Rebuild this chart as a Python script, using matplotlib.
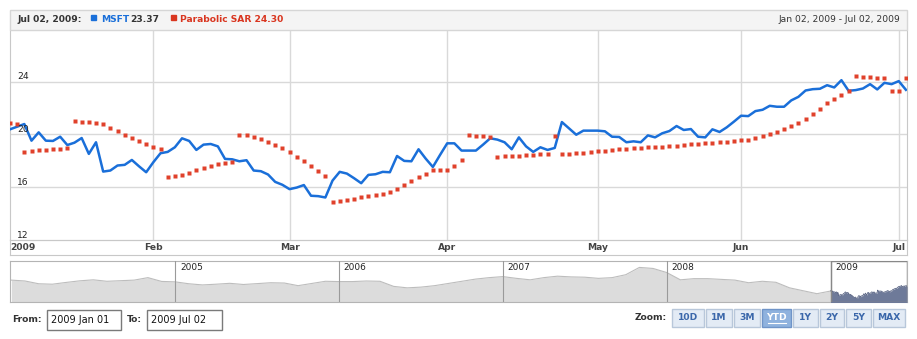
import matplotlib.pyplot as plt
from matplotlib.patches import Rectangle
from matplotlib.lines import Line2D

W, H = 917, 339

# MSFT daily close, trading days Jan 02 - Jul 02 2009
msft = [20.38, 20.58, 20.78, 19.52, 20.15, 19.52, 19.50, 19.82, 19.19, 19.37,
        19.72, 18.52, 19.40, 17.18, 17.26, 17.64, 17.69, 18.06, 17.58, 17.13,
        17.89, 18.57, 18.67, 19.02, 19.70, 19.50, 18.82, 19.22, 19.27, 19.09,
        18.14, 18.11, 17.96, 18.04, 17.26, 17.21, 16.96, 16.40, 16.18, 15.85,
        15.97, 16.16, 15.35, 15.32, 15.22, 16.50, 17.16, 17.03, 16.68, 16.30,
        16.93, 16.98, 17.16, 17.13, 18.36, 17.99, 17.96, 18.87, 18.16, 17.53,
        18.44, 19.32, 19.32, 18.77, 18.77, 18.77, 19.22, 19.70, 19.60, 19.40,
        18.87, 19.77, 19.09, 18.67, 19.02, 18.82, 18.97, 20.93, 20.45, 19.97,
        20.28, 20.28, 20.28, 20.23, 19.82, 19.80, 19.40, 19.47, 19.40, 19.92,
        19.77, 20.08, 20.25, 20.63, 20.33, 20.40, 19.82, 19.77, 20.38, 20.18,
        20.53, 20.96, 21.41, 21.38, 21.76, 21.86, 22.16, 22.09, 22.09, 22.57,
        22.84, 23.32, 23.42, 23.45, 23.72, 23.55, 24.10, 23.30, 23.35, 23.47,
        23.80, 23.40, 23.90, 23.80, 24.03, 23.37]

# Parabolic SAR, same days
sar = [20.83, 20.75, 18.69, 18.72, 18.79, 18.82, 18.87, 18.89, 18.94, 21.03,
       20.96, 20.91, 20.83, 20.75, 20.50, 20.23, 19.95, 19.70, 19.47, 19.25,
       19.04, 18.87, 16.78, 16.83, 16.93, 17.11, 17.28, 17.43, 17.58, 17.74,
       17.86, 17.91, 19.97, 19.92, 19.82, 19.67, 19.42, 19.17, 18.94, 18.69,
       18.29, 17.99, 17.64, 17.26, 16.83, 14.89, 14.94, 15.04, 15.14, 15.22,
       15.30, 15.37, 15.47, 15.65, 15.87, 16.15, 16.48, 16.75, 17.03, 17.31,
       17.31, 17.31, 17.61, 18.06, 19.92, 19.87, 19.85, 19.80, 18.29, 18.34,
       18.36, 18.39, 18.42, 18.47, 18.49, 18.49, 19.87, 18.49, 18.52, 18.57,
       18.62, 18.67, 18.72, 18.77, 18.82, 18.87, 18.92, 18.94, 18.99, 19.02,
       19.04, 19.07, 19.12, 19.14, 19.19, 19.25, 19.30, 19.32, 19.37, 19.42,
       19.45, 19.50, 19.55, 19.60, 19.72, 19.87, 20.03, 20.20, 20.40, 20.60,
       20.83, 21.18, 21.53, 21.91, 22.36, 22.69, 22.99, 23.30, 24.38, 24.35,
       24.33, 24.30, 24.25, 23.25, 23.25, 24.30]

month_labels = ['2009', 'Feb', 'Mar', 'Apr', 'May', 'Jun', 'Jul']
month_start = [0, 20, 39, 61, 82, 102, 124]   # trading-day index of 1st day
y_ticks = [12, 16, 20, 24]

# navigator: monthly MSFT Jan 2004 .. Jan 2009
nav_hist = [27.8, 27.2, 25.3, 25.0, 26.2, 27.3, 28.0, 27.0, 27.4, 27.8, 29.5, 26.9,
            26.6, 25.3, 24.5, 25.0, 25.6, 24.8, 25.4, 26.0, 25.8, 24.0, 25.5, 27.0,
            26.8, 26.8, 27.2, 27.0, 23.5, 22.5, 23.0, 24.0, 25.5, 27.0, 28.5, 29.5,
            30.2, 29.0, 28.0, 29.5, 30.5, 30.0, 29.8, 29.0, 29.5, 31.5, 36.5, 35.8,
            33.0, 28.0, 28.8, 28.8, 28.3, 27.8, 26.0, 27.0, 26.3, 22.5, 20.5, 18.5,
            20.3]
nav_years = ['2005', '2006', '2007', '2008', '2009']
zoom_buttons = ['10D', '1M', '3M', 'YTD', '1Y', '2Y', '5Y', 'MAX']
from_date = '2009 Jan 01'
to_date = '2009 Jul 02'

plt.rcParams['font.family'] = ['DejaVu Sans']
fig = plt.figure(figsize=(W / 100, H / 100), dpi=100)
fig.patch.set_facecolor('white')


def box(x0, y0, x1, y1):
    return [x0 / W, 1 - y1 / H, (x1 - x0) / W, (y1 - y0) / H]


def fx(x):
    return x / W


def fy(y):
    return 1 - y / H


def rect(x0, y0, x1, y1, fc, ec, lw=1, z=1):
    r = Rectangle((fx(x0), fy(y1)), (x1 - x0) / W, (y1 - y0) / H,
                  transform=fig.transFigure, facecolor=fc, edgecolor=ec,
                  linewidth=lw, zorder=z)
    fig.add_artist(r)


# header bar
rect(10, 10, 907, 30, '#f4f4f4', '#d6d6d6')
fig.text(fx(17), fy(20), 'Jul 02, 2009:', fontsize=6.6, fontweight='bold',
         color='#333333', va='center')
rect(91, 15, 96, 20, '#1a6fd9', '#1a6fd9', z=3)
fig.text(fx(101), fy(20), 'MSFT', fontsize=6.6, fontweight='bold',
         color='#1a6fd9', va='center')
fig.text(fx(130), fy(20), '%.2f' % msft[-1], fontsize=6.6, fontweight='bold',
         color='#333333', va='center')
rect(171, 15, 176, 20, '#d9351f', '#d9351f', z=3)
fig.text(fx(180), fy(20), 'Parabolic SAR %.2f' % sar[-1], fontsize=6.6,
         fontweight='bold', color='#d9351f', va='center')
fig.text(fx(900), fy(20), 'Jan 02, 2009 - Jul 02, 2009', fontsize=6.6,
         color='#333333', va='center', ha='right')

# main chart
ax = fig.add_axes(box(10, 30, 907, 240))
idx = list(range(len(msft)))
ax.plot(idx, msft, color='#1a6fd9', lw=1.8, zorder=3, solid_joinstyle='round')
ax.plot(idx, sar, 's', color='#e0412b', ms=2.4, mec='none', zorder=4)
ax.set_xlim(0, 125.15)
ax.set_ylim(12, 27.9)
for m in month_start[1:]:
    ax.axvline(m, color='#d9d9d9', lw=1, zorder=1)
for v in y_ticks[1:]:
    ax.axhline(v, color='#d9d9d9', lw=1, zorder=1)
for v in y_ticks:
    ax.text(0.008, v + 0.18, str(v), transform=ax.get_yaxis_transform(),
            fontsize=6.6, color='#222222', va='baseline', ha='left', zorder=5)
ax.set_yticks([])
ax.set_xticks(month_start)
ax.set_xticklabels(month_labels, fontsize=6.6, fontweight='bold', color='#444444')
ax.tick_params(axis='x', length=0, pad=2.5)
ax.get_xticklabels()[0].set_ha('left')
for s in ['left', 'right', 'bottom']:
    ax.spines[s].set_color('#c8c8c8')
ax.spines['top'].set_visible(False)

# label band under the chart
band = fig.add_axes(box(10, 240, 907, 255))
band.set_facecolor('none')
band.set_xticks([])
band.set_yticks([])
for s in band.spines.values():
    s.set_color('#c8c8c8')

# navigator
nav = fig.add_axes(box(10, 261, 907, 302))
nm = list(range(len(nav_hist)))
nav.fill_between(nm, nav_hist, 0, color='#dcdcdc', lw=0)
nav.plot(nm, nav_hist, color='#bdbdbd', lw=0.8)
sel_x = [60 + i * 5.6 / 125 for i in idx]
nav.fill_between(sel_x, msft, 0, color='#6e7a99', lw=0, zorder=3)
nav.plot(sel_x, msft, color='#5b6685', lw=0.6, zorder=3)
nav.set_xlim(-0.1, 65.6)
nav.set_ylim(12.8, 40.9)
for k, yr in enumerate(nav_years):
    m = 12 * (k + 1)
    nav.axvline(m, color='#9a9a9a', lw=0.8, zorder=4)
    nav.text(m + 0.35, 39.5, yr, fontsize=6.5, color='#222222', va='top',
             ha='left', zorder=5)
nav.add_patch(Rectangle((60, 12.8), 5.6, 28.1, facecolor='none',
                        edgecolor='#888888', lw=1, zorder=5))
nav.set_xticks([])
nav.set_yticks([])
for s in nav.spines.values():
    s.set_color('#b4b4b4')

# range inputs
fig.text(fx(12), fy(320), 'From:', fontsize=6.6, fontweight='bold',
         color='#333333', va='center')
rect(47, 310, 121, 330, 'white', '#7a7a7a')
fig.text(fx(51), fy(320), from_date, fontsize=7,
         family=['Liberation Sans Narrow', 'DejaVu Sans'], color='#111111', va='center')
fig.text(fx(127), fy(320), 'To:', fontsize=6.6, fontweight='bold',
         color='#333333', va='center')
rect(147, 310, 222, 330, 'white', '#7a7a7a')
fig.text(fx(151), fy(320), to_date, fontsize=7,
         family=['Liberation Sans Narrow', 'DejaVu Sans'], color='#111111', va='center')

# zoom buttons
fig.text(fx(667), fy(318), 'Zoom:', fontsize=6.6, fontweight='bold',
         color='#333333', va='center', ha='right')
btn_edges = [671, 705, 733, 761, 792, 819, 845, 872, 906]
for k, lab in enumerate(zoom_buttons):
    x0, x1 = btn_edges[k] + 1, btn_edges[k + 1] - 1
    if lab == 'YTD':
        rect(x0, 309, x1, 327, '#8fb2de', '#6f94c8', z=2)
        col = 'white'
    else:
        rect(x0, 309, x1, 327, '#e3ebf5', '#b8c7da', z=2)
        col = '#3b67aa'
    cx = (x0 + x1) / 2
    fig.text(fx(cx), fy(318), lab, fontsize=6.6, fontweight='bold', color=col,
             va='center', ha='center', zorder=3)
    if lab == 'YTD':
        fig.add_artist(Line2D([fx(cx - 9), fx(cx + 9)], [fy(323), fy(323)],
                              transform=fig.transFigure, color='white', lw=0.8,
                              zorder=3))

plt.savefig('out.png', dpi=100, facecolor='white')
